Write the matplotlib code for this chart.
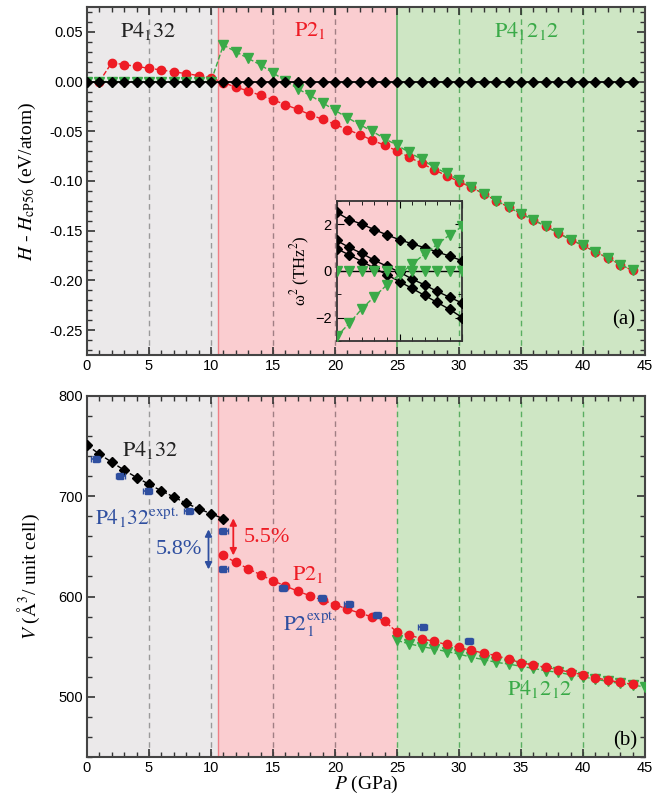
import numpy as np
import matplotlib
matplotlib.use('Agg')
import matplotlib.pyplot as plt
from matplotlib.ticker import MultipleLocator

plt.rcParams['font.family'] = ['Liberation Sans', 'DejaVu Sans']
plt.rcParams['mathtext.fontset'] = 'stix'

# ---------------- data ----------------
# (a) enthalpy relative to cP56 (eV/atom)
p_cub = np.arange(0, 45)
h_cub = np.zeros(45)

p_p21_h = np.arange(1, 45)
h_p21 = [0.0, 0.019, 0.017, 0.0153, 0.0133, 0.0117, 0.0097, 0.008, 0.006, 0.0037,
         -0.001, -0.0057, -0.0093, -0.014, -0.0183, -0.0233, -0.028, -0.0333, -0.038, -0.043,
         -0.0483, -0.0533, -0.059, -0.064, -0.0697, -0.0763, -0.0823, -0.0887, -0.0947, -0.1007,
         -0.1063, -0.113, -0.1197, -0.1263, -0.133, -0.139, -0.1457, -0.1523, -0.159, -0.1647,
         -0.1713, -0.1773, -0.184, -0.19]

p_tet_h = np.arange(0, 45)
h_tet = [0, 0, 0, 0, 0, 0, 0, 0, 0, 0, 0,
         0.0367, 0.030, 0.0233, 0.0167, 0.0087, 0.001, -0.0073, -0.014, -0.0213, -0.029,
         -0.0363, -0.0433, -0.05, -0.0573, -0.064, -0.0713, -0.0783, -0.086, -0.0923, -0.099,
         -0.1063, -0.113, -0.1197, -0.1263, -0.133, -0.139, -0.1457, -0.1523, -0.159, -0.1647,
         -0.1713, -0.1773, -0.184, -0.19]

# inset: phonon frequencies squared (THz^2)
p_ph = np.arange(20, 31)
w2_a = [2.5, 2.19, 2.0, 1.76, 1.54, 1.33, 1.16, 0.99, 0.81, 0.63, 0.43]
w2_b = [1.3, 1.0, 0.75, 0.45, 0.2, -0.05, -0.35, -0.6, -0.88, -1.13, -1.38]
w2_c = [0.95, 0.68, 0.4, 0.12, -0.17, -0.46, -0.75, -1.05, -1.35, -1.65, -2.0]
w2_zero = np.zeros(11)
w2_soft = [-2.8, -2.25, -1.62, -1.1, -0.6, -0.15, 0.29, 0.72, 1.14, 1.54, 1.9]

# (b) volume (A^3 / unit cell)
p_cub_v = np.arange(0, 12)
v_cub = [751, 742, 734, 726, 718.7, 712, 705.4, 699.3, 693, 687.6, 682.6, 677.6]

p_p21_v = np.arange(11, 45)
v_p21 = [641, 634, 627.8, 621.7, 615.8, 610.5, 605.4, 600.7, 596.4, 592,
         587.4, 583.6, 579.6, 575.5, 564.5, 561.5, 558, 555.2, 552.2, 549.2,
         546.2, 543.7, 541.1, 537.5, 534, 531.7, 529.4, 527.1, 524.4, 522,
         519, 516.6, 514.3, 512.6]

p_tet_v = np.arange(25, 46)
v_tet = [556.2, 552.8, 550.1, 547.8, 545.1, 542.7, 539.4, 537.1, 534.4, 532.7,
         530.4, 528.4, 526, 524.4, 522, 520, 517.6, 515.3, 513.3, 511.6, 510]

p_expt = [0.7, 2.7, 4.9, 8.2, 11.0, 11.0, 15.8, 18.95, 21.1, 23.4, 27.07, 30.8]
v_expt = [737, 720, 705.3, 685, 665.5, 627.5, 608.4, 598.5, 592.5, 582, 569.7, 555.5]
p_expt_err = 0.35

# phase boundaries (GPa)
b1, b2, pmax = 10.6, 25.0, 45.0

c_gray, c_pink, c_green = '#ebe9ea', '#facdd0', '#cee6c4'
c_red, c_grn, c_blue = '#ee1c25', '#3aaa48', '#2f4fa0'

fig = plt.figure(figsize=(6.57, 7.94), dpi=100)
ax1 = fig.add_axes([0.1324, 0.5529, 0.8493, 0.4383])
ax2 = fig.add_axes([0.1324, 0.0466, 0.8493, 0.4547])


def shade(ax, top_solid):
    ax.axvspan(0, b1, color=c_gray, zorder=0, lw=0)
    ax.axvspan(b1, b2, color=c_pink, zorder=0, lw=0)
    ax.axvspan(b2, pmax, color=c_green, zorder=0, lw=0)
    for x in (5, 10):
        ax.axvline(x, color='#9a9a9a', ls=(0, (4, 3)), lw=1, zorder=1)
    for x in (15, 20):
        ax.axvline(x, color='#a07f84', ls=(0, (4, 3)), lw=1, zorder=1)
    for x in (30, 35, 40):
        ax.axvline(x, color='#5aae62', ls=(0, (4, 3)), lw=1, zorder=1)
    ax.axvline(b1, color='#f07f86', lw=1, zorder=1)
    if top_solid:
        ax.axvline(b2, color='#5aae62', lw=1.2, zorder=1)
    else:
        ax.axvline(b2, color='#5aae62', ls=(0, (4, 3)), lw=1, zorder=1)


def style(ax):
    ax.set_xlim(0, 45)
    ax.xaxis.set_major_locator(MultipleLocator(5))
    ax.xaxis.set_minor_locator(MultipleLocator(1))
    ax.tick_params(which='both', direction='in', top=True, right=True,
                   labelsize=10.5, color='#333333')
    ax.tick_params(which='major', length=6, width=1.2, pad=3)
    ax.tick_params(which='minor', length=3.5, width=1)
    for s in ax.spines.values():
        s.set_color('#444444')
        s.set_linewidth(1.5)


# ---------------- (a) ----------------
shade(ax1, True)
ax1.plot(p_p21_h, h_p21, color=c_red, ls='--', lw=1, marker='o', ms=6, zorder=3)
ax1.plot(p_tet_h, h_tet, color=c_grn, ls='--', lw=1, marker='v', ms=7.5, zorder=3)
ax1.plot(p_cub, h_cub, color='black', lw=1.3, marker='D', ms=5.5, zorder=4)
ax1.set_ylim(-0.275, 0.075)
ax1.yaxis.set_major_locator(MultipleLocator(0.05))
ax1.yaxis.set_minor_locator(MultipleLocator(0.01))
ax1.set_yticks([-0.25, -0.20, -0.15, -0.10, -0.05, 0.00, 0.05])
ax1.set_yticklabels(['-0.25', '-0.20', '-0.15', '-0.10', '-0.05', '0.00', '0.05'])
style(ax1)
ax1.set_ylabel(r'$H$ - $H_{\rm cP56}$ (eV/atom)', fontsize=14, family='Liberation Serif',
               labelpad=8)

tkw = dict(fontsize=16, family='Liberation Serif', ha='center', va='center')
ekw = dict(fontsize=15.5, family='Liberation Serif', ha='center', va='center')
ax1.text(4.9, 0.051, r'$\mathrm{P4_132}$', color='#222222', **tkw)
ax1.text(18.0, 0.051, r'$\mathrm{P2_1}$', color=c_red, **tkw)
ax1.text(35.5, 0.051, r'$\mathrm{P4_12_12}$', color=c_grn, **tkw)
ax1.text(43.3, -0.24, '(a)', fontsize=15, family='Liberation Serif', ha='center', va='center')

# inset
axi = fig.add_axes([0.5125, 0.5705, 0.1912, 0.1767])
axi.patch.set_alpha(0)
axi.plot(p_ph, w2_a, color='black', lw=1, marker='D', ms=5, zorder=3)
axi.plot(p_ph, w2_b, color='black', lw=1, marker='D', ms=5, zorder=3)
axi.plot(p_ph, w2_c, color='black', lw=1, marker='D', ms=5, zorder=3)
axi.plot(p_ph, w2_zero, color='black', lw=1, zorder=3)
axi.plot(p_ph, w2_zero, color=c_grn, ls='none', marker='v', ms=6.5, zorder=4)
axi.plot(p_ph, w2_soft, color=c_grn, ls='--', lw=1, marker='v', ms=6.5, zorder=4)
axi.set_xlim(20, 30)
axi.set_ylim(-3, 3)
axi.xaxis.set_major_locator(MultipleLocator(5))
axi.xaxis.set_minor_locator(MultipleLocator(1))
axi.yaxis.set_major_locator(MultipleLocator(2))
axi.yaxis.set_minor_locator(MultipleLocator(1))
axi.tick_params(which='both', direction='in', top=True, right=True, labelbottom=False,
                labelsize=10.5)
axi.tick_params(which='major', length=5)
axi.tick_params(which='minor', length=3)
for s in axi.spines.values():
    s.set_color('#333333')
    s.set_linewidth(1.3)
axi.set_ylabel('ω$^2$ (THz$^2$)', fontsize=12, family='Liberation Serif', labelpad=2)

# ---------------- (b) ----------------
shade(ax2, False)
ax2.plot(p_cub_v, v_cub, color='black', ls='--', lw=1, marker='D', ms=5.5, zorder=4)
ax2.plot(p_tet_v, v_tet, color=c_grn, ls='--', lw=1, marker='v', ms=7.5, zorder=3)
ax2.plot(p_p21_v, v_p21, color=c_red, ls='--', lw=1, marker='o', ms=6, zorder=3)
ax2.errorbar(p_expt, v_expt, xerr=p_expt_err, fmt='s', color=c_blue, ms=4.5,
             elinewidth=1.2, capsize=2.5, zorder=5)
ax2.set_ylim(440, 800)
ax2.yaxis.set_major_locator(MultipleLocator(100))
ax2.yaxis.set_minor_locator(MultipleLocator(20))
style(ax2)
ax2.set_ylabel(r'$V$ ($\mathrm{\AA}^3$/ unit cell)', fontsize=14, family='Liberation Serif',
               labelpad=12)
ax2.set_xlabel(r'$P$ (GPa)', fontsize=14, family='Liberation Serif', labelpad=-1)

ax2.text(5.1, 746, r'$\mathrm{P4_132}$', color='#222222', **tkw)
ax2.text(4.0, 678, r'$\mathrm{P4_132^{expt.}}$', color=c_blue, **ekw)
ax2.text(7.4, 647, '5.8%', color=c_blue, **tkw)
ax2.text(14.5, 659, '5.5%', color=c_red, **tkw)
ax2.text(17.8, 622, r'$\mathrm{P2_1}$', color=c_red, **tkw)
ax2.text(18.0, 573, r'$\mathrm{P2_1^{expt.}}$', color=c_blue, **ekw)
ax2.text(36.5, 508, r'$\mathrm{P4_12_12}$', color=c_grn, **tkw)
ax2.text(43.4, 456, '(b)', fontsize=15, family='Liberation Serif', ha='center', va='center')

ax2.annotate('', xy=(9.8, 627), xytext=(9.8, 667),
             arrowprops=dict(arrowstyle='<|-|>', color=c_blue, lw=1.3,
                             mutation_scale=10, shrinkA=0, shrinkB=0))
ax2.annotate('', xy=(11.8, 641), xytext=(11.8, 678),
             arrowprops=dict(arrowstyle='<|-|>', color=c_red, lw=1.3,
                             mutation_scale=10, shrinkA=0, shrinkB=0))

fig.savefig('out.png', dpi=100)
